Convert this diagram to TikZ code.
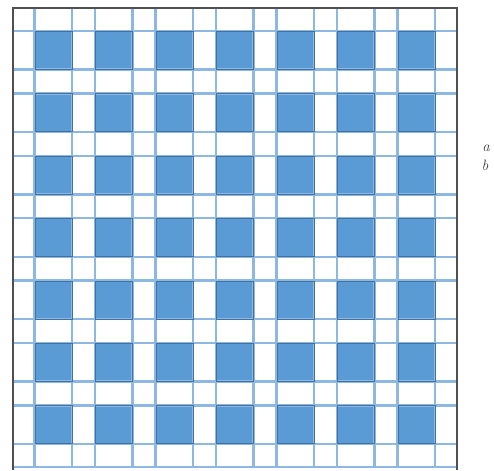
\documentclass[tikz,border=0pt]{standalone}
\definecolor{sqfill}{HTML}{5B9BD5}
\definecolor{sqedge}{HTML}{41719C}
\definecolor{gridline}{HTML}{8DB8E4}
\definecolor{framecol}{HTML}{505050}
\tikzset{
  gl/.style={draw=gridline, line width=2.4pt},
  frame/.style={draw=framecol, line width=1.5pt},
  lab/.style={font=\itshape\fontsize{15}{17}\selectfont, text=black!75, inner sep=0pt}
}
\begin{document}
\begin{tikzpicture}[x=1pt,y=-1pt]
\useasboundingbox (0,0) rectangle (494,470);
% squares
\foreach \i in {0,...,6}{
  \foreach \j in {0,...,6}{
    \pgfmathsetmacro{\xa}{35+60.5*\i}
    \pgfmathsetmacro{\ya}{31.5+62.4*\j}
    \fill[sqfill] (\xa,\ya) rectangle ++(37,38);
  }
}
% grid lines
\foreach \i in {0,...,6}{
  \pgfmathsetmacro{\xa}{34.5+60.5*\i}
  \pgfmathsetmacro{\xb}{72+60.5*\i}
  \draw[gl] (\xa,8) -- (\xa,468);
  \draw[gl] (\xb,8) -- (\xb,468);
  \pgfmathsetmacro{\ya}{31+62.4*\i}
  \pgfmathsetmacro{\yb}{69.5+62.4*\i}
  \draw[gl] (13,\ya) -- (457,\ya);
  \draw[gl] (13,\yb) -- (457,\yb);
}
\draw[gl] (13,467) -- (457,467);
% square borders
\foreach \i in {0,...,6}{
  \foreach \j in {0,...,6}{
    \pgfmathsetmacro{\xa}{35+60.5*\i}
    \pgfmathsetmacro{\ya}{31.5+62.4*\j}
    \draw[sqedge, line width=1pt] (\xa,\ya) rectangle ++(37,38);
  }
}
% frame
\draw[frame] (13,470) -- (13,8) -- (457,8) -- (457,470);
% labels
\node[lab, anchor=base] (a) at (486,152) {a};
\node[lab, anchor=base] (b) at (485,171) {b};
\end{tikzpicture}
\end{document}
